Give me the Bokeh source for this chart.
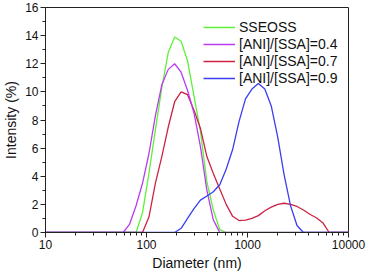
from bokeh.plotting import figure
from bokeh.models import FixedTicker, PrintfTickFormatter, Legend, LegendItem, Range1d
from bokeh.embed import file_html
from bokeh.resources import INLINE

# Diameter bins (nm)
diameter = [10, 58.77, 68.06, 78.82, 91.28, 105.7, 122.4, 141.8, 164.2, 190.1,
            220.2, 255.0, 295.3, 342.0, 396.1, 458.7, 531.2, 615.1, 712.4, 825.0,
            955.4, 1106, 1281, 1484, 1718, 1990, 2305, 2669, 3091, 3580,
            4145, 4801, 5560, 6439, 7456, 8635, 10000]

sseoss = [0, 0, 0, 0, 1.4, 4.2, 7.3, 10.3, 12.8, 13.9,
          13.6, 12.2, 9.7, 7.2, 3.6, 1.6, 0.2, 0, 0, 0,
          0, 0, 0, 0, 0, 0, 0, 0, 0, 0,
          0, 0, 0, 0, 0, 0, 0]

ani04 = [0, 0, 0.6, 1.9, 3.5, 5.6, 8.3, 10.5, 11.6, 12.0,
         11.4, 10.1, 8.5, 6.1, 3.0, 0.9, 0, 0, 0, 0,
         0, 0, 0, 0, 0, 0, 0, 0, 0, 0,
         0, 0, 0, 0, 0, 0, 0]

ani07 = [0, 0, 0, 0, 0, 1.1, 3.5, 5.4, 7.5, 9.3,
         10.0, 9.8, 8.7, 7.4, 5.4, 4.2, 3.1, 2.0, 1.15, 0.85,
         0.88, 1.0, 1.2, 1.55, 1.8, 2.0, 2.08, 2.0, 1.85, 1.6,
         1.3, 1.05, 0.7, 0, 0, 0, 0]

ani09 = [0, 0, 0, 0, 0, 0, 0, 0, 0, 0,
         0.3, 1.0, 1.7, 2.3, 2.6, 2.9, 3.4, 4.5, 5.9, 7.9,
         9.5, 10.2, 10.6, 10.2, 9.0, 6.8, 4.1, 1.9, 0.5, 0,
         0, 0, 0, 0, 0, 0, 0]

labels = ["SSEOSS", "[ANI]/[SSA]=0.4", "[ANI]/[SSA]=0.7", "[ANI]/[SSA]=0.9"]
colors = ["#5ef03a", "#bb3cf0", "#cc2244", "#3a3ef0"]

x_ticks = [10, 100, 1000, 10000]
y_ticks = [0, 2, 4, 6, 8, 10, 12, 14, 16]

FONT = "Liberation Sans"

p = figure(width=368, height=273, x_axis_type="log",
           x_range=Range1d(10, 10000), y_range=Range1d(0, 16),
           output_backend="svg", toolbar_location=None,
           min_border_top=7, min_border_right=20, min_border_left=10, min_border_bottom=10)

p.xgrid.visible = False
p.ygrid.visible = False
p.outline_line_color = "#222222"
p.outline_line_width = 1
p.background_fill_color = "white"
p.border_fill_color = "white"

r_green = p.line(diameter, sseoss, line_color=colors[0], line_width=1.3)
r_red = p.line(diameter, ani07, line_color=colors[2], line_width=1.3)
r_mag = p.line(diameter, ani04, line_color=colors[1], line_width=1.3)
r_blue = p.line(diameter, ani09, line_color=colors[3], line_width=1.3)

minor_x = [m * d for d in [10, 100, 1000] for m in range(2, 10)]
p.xaxis.ticker = FixedTicker(ticks=x_ticks, minor_ticks=minor_x)
p.xaxis.formatter = PrintfTickFormatter(format="%d")
p.yaxis.ticker = FixedTicker(ticks=y_ticks, minor_ticks=[1, 3, 5, 7, 9, 11, 13, 15])

for ax in (p.xaxis[0], p.yaxis[0]):
    ax.axis_line_color = "#222222"
    ax.major_tick_line_color = "#222222"
    ax.minor_tick_line_color = "#222222"
    ax.major_tick_out = 5
    ax.major_tick_in = 0
    ax.minor_tick_out = 3
    ax.minor_tick_in = 0
    ax.major_label_text_font = FONT
    ax.major_label_text_font_size = "12px"
    ax.major_label_text_color = "#111111"
    ax.major_label_standoff = 2
    ax.axis_label_text_font = FONT
    ax.axis_label_text_font_size = "14px"
    ax.axis_label_text_font_style = "normal"
    ax.axis_label_text_color = "#111111"
    ax.axis_label_standoff = 3

p.xaxis.axis_label = "Diameter (nm)"
p.yaxis.axis_label = "Intensity (%)"

legend = Legend(items=[
    LegendItem(label=labels[0], renderers=[r_green]),
    LegendItem(label=labels[1], renderers=[r_mag]),
    LegendItem(label=labels[2], renderers=[r_red]),
    LegendItem(label=labels[3], renderers=[r_blue]),
], location=(158, 146), margin=0, padding=6, spacing=1,
    glyph_width=32, glyph_height=16, label_height=16, label_standoff=4,
    label_text_font=FONT, label_text_font_size="14px", label_text_color="#111111",
    border_line_color=None, background_fill_alpha=0)
p.add_layout(legend, "center")

open("out.html", "w").write(file_html(p, INLINE))
